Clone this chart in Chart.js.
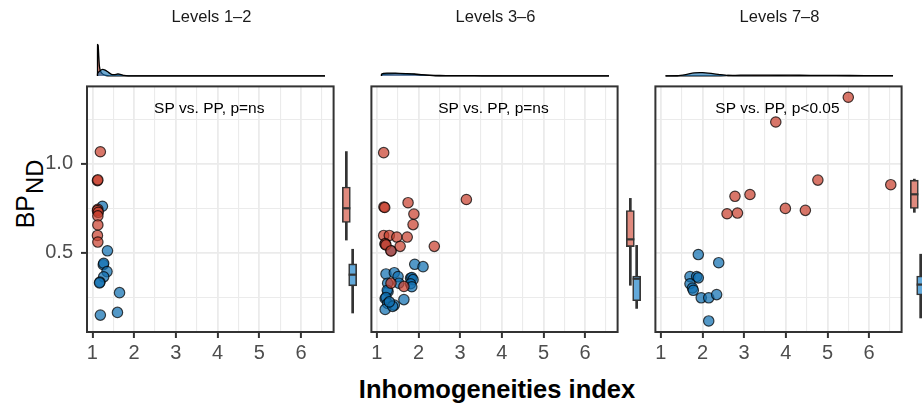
<!DOCTYPE html>
<html>
<head>
<meta charset="utf-8">
<script src="https://cdn.jsdelivr.net/npm/chart.js@4.4.1/dist/chart.umd.min.js"></script>
<style>
    html, body { margin: 0; padding: 0; background: #fff; overflow: hidden; }
    #wrap { position: relative; width: 922px; height: 407px; overflow: hidden; font-family: "Liberation Sans", Arial, sans-serif; }
    #wrap canvas { position: absolute; }
    #ylab { position: absolute; left: 30px; top: 194px; transform: translate(-50%, -50%) rotate(-90deg);
            white-space: nowrap; font-size: 25px; line-height: 1; color: #000; }
    #ylab sub { font-size: 0.95em; vertical-align: -0.38em; margin-left: 1px; }
    #xlab { position: absolute; left: 497px; top: 377px; transform: translateX(-50%);
            white-space: nowrap; font-size: 25.5px; line-height: 1; font-weight: bold; color: #000; }
</style>
</head>
<body>
<div id="wrap">
    <div id="ylab">BP<sub>ND</sub></div>
    <div id="xlab">Inhomogeneities index</div>
</div>
<script>
// Datos
const panelTitles = ['Levels 1–2', 'Levels 3–6', 'Levels 7–8'];
const panelNotes = ['SP vs. PP, p=ns', 'SP vs. PP, p=ns', 'SP vs. PP, p<0.05'];
const groups = ['PP', 'SP'];
const xTicks = [1, 1.5, 2, 2.5, 3, 3.5, 4, 4.5, 5, 5.5, 6, 6.5];
const xLabels = [1, 2, 3, 4, 5, 6];
const yTicks = [0.25, 0.5, 0.75, 1.0, 1.25];
const yLabels = [0.5, 1.0];
const noteX = 3.8, noteY = 1.31;

// Levels 1-2
const p1RedX = [1.19, 1.12, 1.13, 1.13, 1.12, 1.14, 1.13, 1.13, 1.12, 1.13];
const p1RedY = [1.068, 0.906, 0.910, 0.745, 0.738, 0.728, 0.708, 0.657, 0.598, 0.561];
const p1BlueX = [1.24, 1.36, 1.26, 1.27, 1.35, 1.27, 1.18, 1.17, 1.65, 1.60, 1.19];
const p1BlueY = [0.762, 0.512, 0.434, 0.442, 0.395, 0.366, 0.336, 0.332, 0.277, 0.166, 0.151];

// Levels 3-6
const p2RedX = [1.165, 1.17, 1.19, 1.75, 1.89, 1.87, 3.15, 1.165, 1.30, 1.48, 1.73, 1.20, 1.22, 1.34, 1.56, 2.38, 1.34, 1.65];
const p2RedY = [1.063, 0.758, 0.755, 0.782, 0.718, 0.659, 0.800, 0.598, 0.598, 0.589, 0.589, 0.552, 0.545, 0.511, 0.537, 0.537, 0.330, 0.312];
const p2BlueX = [1.91, 2.11, 1.22, 1.42, 1.51, 1.81, 1.84, 1.87, 1.26, 1.53, 1.81, 1.84, 1.27, 1.25, 1.20, 1.22, 1.26, 1.42, 1.65, 1.20, 1.38, 1.30, 1.20, 1.34];
const p2BlueY = [0.436, 0.423, 0.382, 0.389, 0.367, 0.358, 0.362, 0.350, 0.330, 0.330, 0.327, 0.310, 0.284, 0.290, 0.244, 0.250, 0.216, 0.207, 0.238, 0.183, 0.200, 0.225, 0.548, 0.513];

// Levels 7-8
const p3RedX = [5.50, 3.76, 4.77, 6.52, 2.78, 3.14, 3.99, 4.47, 2.59, 2.84];
const p3RedY = [1.374, 1.235, 0.909, 0.883, 0.818, 0.828, 0.750, 0.739, 0.720, 0.724];
const p3BlueX = [1.90, 2.39, 1.70, 1.86, 1.90, 1.70, 1.76, 1.78, 1.97, 2.15, 2.34, 2.15];
const p3BlueY = [0.491, 0.445, 0.367, 0.367, 0.360, 0.327, 0.303, 0.290, 0.248, 0.248, 0.266, 0.118];

// Boxplots marginales: [min, q1, mediana, q3, max]
const box1Red = [0.564, 0.664, 0.744, 0.864, 1.065];
const box1Blue = [0.151, 0.305, 0.368, 0.429, 0.512];
const box2Red = [0.308, 0.527, 0.568, 0.731, 0.800];
const box2Blue = [0.177, 0.221, 0.345, 0.360, 0.534];
const box3Red = [0.721, 0.743, 0.823, 0.903, 0.909];
const box3Blue = [0.123, 0.253, 0.312, 0.360, 0.484];

// Densidades marginales [x, densidad]
const dens1Red = [[1.12, 0], [1.121, 11.5], [1.135, 11.2], [1.15, 7], [1.165, 3.5], [1.19, 1.8], [1.22, 1.0], [1.26, 0.5], [1.32, 0.15], [1.4, 0], [6.52, 0]];
const dens1Blue = [[1.12, 0], [1.121, 0.9], [1.18, 1.9], [1.24, 2.4], [1.3, 2.1], [1.38, 1.3], [1.45, 0.6], [1.52, 0.45], [1.6, 0.7], [1.66, 0.6], [1.75, 0.2], [1.85, 0.03], [2.0, 0], [6.52, 0]];
const dens2Red = [[1.12, 0], [1.121, 0.5], [1.25, 0.7], [1.45, 0.8], [1.7, 0.65], [1.9, 0.55], [2.2, 0.3], [2.5, 0.15], [2.8, 0.08], [3.15, 0.12], [3.5, 0.03], [4, 0], [6.52, 0]];
const dens2Blue = [[1.12, 0], [1.121, 0.7], [1.25, 1.0], [1.45, 1.0], [1.7, 0.85], [1.9, 0.7], [2.1, 0.35], [2.4, 0.05], [2.7, 0], [6.52, 0]];
const dens3Red = [[1.12, 0], [2.2, 0], [2.6, 0.15], [2.9, 0.3], [3.3, 0.28], [3.8, 0.25], [4.3, 0.25], [4.8, 0.2], [5.5, 0.15], [6.2, 0.1], [6.52, 0.08]];
const dens3Blue = [[1.12, 0], [1.4, 0.05], [1.6, 0.5], [1.8, 1.1], [2.0, 1.2], [2.2, 0.9], [2.4, 0.5], [2.6, 0.15], [2.9, 0.02], [3.2, 0], [6.52, 0]];

// Rangos de ejes
const X_MIN = 0.87, X_MAX = 6.78;
const Y_MIN = 0.056, Y_MAX = 1.435;
const DENS_MIN = -1.5, DENS_MAX = 14.7;

// Estilo y layout
const FONT = '"Liberation Sans", Arial, sans-serif';
const panelLeft = [87, 371, 655];
const panelW = 249, panelTop = 84, panelH = 248;
const redFill = 'rgba(201,65,47,0.72)', blueFill = 'rgba(16,112,178,0.72)';
const redBox = '#E08A7E', blueBox = '#63A9DA';
const redDens = 'rgba(201,65,47,0.6)', blueDens = 'rgba(16,112,178,0.6)';
const dark = '#333333';

Chart.defaults.font.family = FONT;
Chart.defaults.animation = false;
Chart.defaults.events = [];
Chart.defaults.plugins.legend.display = false;
Chart.defaults.plugins.tooltip.enabled = false;

function makeCanvas(left, top, w, h) {
    const c = document.createElement('canvas');
    c.width = w; c.height = h;
    c.style.left = left + 'px'; c.style.top = top + 'px';
    c.style.width = w + 'px'; c.style.height = h + 'px';
    document.getElementById('wrap').appendChild(c);
    return c.getContext('2d');
}

function pts(xs, ys) {
    return xs.map((x, i) => ({ x: x, y: ys[i] }));
}

// Borde del panel y texto de anotación
const panelFrame = {
    id: 'panelFrame',
    afterDraw(chart, args, opts) {
        const a = chart.chartArea, ctx = chart.ctx;
        ctx.save();
        if (opts.note) {
            ctx.fillStyle = '#000';
            ctx.font = '15.5px ' + FONT;
            ctx.textAlign = 'center';
            ctx.textBaseline = 'middle';
            ctx.fillText(opts.note, chart.scales.x.getPixelForValue(noteX), chart.scales.y.getPixelForValue(noteY));
        }
        ctx.strokeStyle = dark;
        ctx.lineWidth = 2;
        ctx.strokeRect(a.left, a.top, a.width, a.height);
        ctx.restore();
    }
};

function scatterPanel(i, redX, redY, blueX, blueY) {
    const first = i === 0;
    const yW = first ? panelLeft[0] : 6;
    const ctx = makeCanvas(panelLeft[i] - yW, panelTop - 4, yW + panelW + 4, 4 + panelH + 40);
    const isMajorX = v => xLabels.includes(v);
    const isMajorY = v => yLabels.includes(v);
    new Chart(ctx, {
        type: 'scatter',
        data: {
            datasets: [
                { data: pts(redX, redY), backgroundColor: redFill, borderColor: 'rgba(0,0,0,0.72)', borderWidth: 1.2, pointRadius: 5.2 },
                { data: pts(blueX, blueY), backgroundColor: blueFill, borderColor: 'rgba(0,0,0,0.72)', borderWidth: 1.2, pointRadius: 5.2 }
            ]
        },
        options: {
            responsive: false,
            layout: { padding: { top: 4, right: 4 } },
            scales: {
                x: {
                    type: 'linear', min: X_MIN, max: X_MAX,
                    afterBuildTicks: s => { s.ticks = xTicks.map(v => ({ value: v })); },
                    afterFit: s => { s.height = 40; s.paddingLeft = 0; s.paddingRight = 0; },
                    border: { display: false },
                    grid: {
                        color: '#EBEBEB',
                        lineWidth: c => (c.tick && isMajorX(c.tick.value)) ? 1.8 : 1.1,
                        tickLength: 6, tickWidth: 2,
                        tickColor: c => (c.tick && isMajorX(c.tick.value)) ? dark : 'rgba(0,0,0,0)'
                    },
                    ticks: {
                        autoSkip: false, maxRotation: 0, padding: 3,
                        color: '#4D4D4D', font: { size: 20 },
                        callback: v => isMajorX(v) ? String(v) : ''
                    }
                },
                y: {
                    type: 'linear', min: Y_MIN, max: Y_MAX,
                    afterBuildTicks: s => { s.ticks = yTicks.map(v => ({ value: v })); },
                    afterFit: s => { s.width = yW; s.paddingTop = 0; s.paddingBottom = 0; },
                    border: { display: false },
                    grid: {
                        color: '#EBEBEB',
                        lineWidth: c => (c.tick && isMajorY(c.tick.value)) ? 1.8 : 1.1,
                        drawTicks: first, tickLength: 6, tickWidth: 2,
                        tickColor: c => (c.tick && isMajorY(c.tick.value)) ? dark : 'rgba(0,0,0,0)'
                    },
                    ticks: {
                        display: first, padding: 8,
                        color: '#4D4D4D', font: { size: 20 },
                        callback: v => isMajorY(v) ? v.toFixed(1) : ''
                    }
                }
            },
            plugins: { panelFrame: { note: panelNotes[i] } }
        },
        plugins: [panelFrame]
    });
}

function densityStrip(i, red, blue) {
    const ctx = makeCanvas(panelLeft[i], 0, panelW, 80);
    const line = (d, fill) => ({
        data: d.map(p => ({ x: p[0], y: p[1] })),
        borderColor: '#000', borderWidth: 1.3, backgroundColor: fill,
        fill: 'origin', pointRadius: 0, tension: 0.2
    });
    new Chart(ctx, {
        type: 'line',
        data: { datasets: [line(blue, blueDens), line(red, redDens)] },
        options: {
            responsive: false,
            scales: {
                x: { type: 'linear', min: X_MIN, max: X_MAX, display: false },
                y: { min: DENS_MIN, max: DENS_MAX, display: false }
            },
            plugins: {
                title: {
                    display: true, text: panelTitles[i], color: '#1A1A1A',
                    font: { size: 16.5, weight: 'normal' }, padding: { top: 8, bottom: 8 }
                }
            }
        }
    });
}

function boxMargin(i, red, blue) {
    const right = panelLeft[i] + panelW;
    const ctx = makeCanvas(right + 1, panelTop - 4, 25, panelH + 8);
    new Chart(ctx, {
        type: 'bar',
        data: {
            labels: groups,
            datasets: [
                {
                    type: 'line', data: [red[2], blue[2]], showLine: false, order: 0,
                    pointStyle: 'line', pointRadius: 4, pointBorderWidth: 2.2, pointBorderColor: dark, clip: false
                },
                {
                    data: [[red[1], red[3]], [blue[1], blue[3]]], order: 1,
                    backgroundColor: [redBox, blueBox], borderColor: dark, borderWidth: 1.6,
                    borderSkipped: false, barThickness: 8, grouped: false, clip: false
                },
                {
                    data: [[red[0], red[4]], [blue[0], blue[4]]], order: 2,
                    backgroundColor: dark, barThickness: 2, grouped: false, clip: false
                }
            ]
        },
        options: {
            responsive: false,
            layout: { padding: { top: 4, bottom: 4, left: 6, right: 6 } },
            scales: {
                x: { type: 'category', offset: true, display: false },
                y: { type: 'linear', min: Y_MIN, max: Y_MAX, display: false }
            }
        }
    });
}

densityStrip(0, dens1Red, dens1Blue);
densityStrip(1, dens2Red, dens2Blue);
densityStrip(2, dens3Red, dens3Blue);

scatterPanel(0, p1RedX, p1RedY, p1BlueX, p1BlueY);
scatterPanel(1, p2RedX, p2RedY, p2BlueX, p2BlueY);
scatterPanel(2, p3RedX, p3RedY, p3BlueX, p3BlueY);

boxMargin(0, box1Red, box1Blue);
boxMargin(1, box2Red, box2Blue);
boxMargin(2, box3Red, box3Blue);
</script>
</body>
</html>
